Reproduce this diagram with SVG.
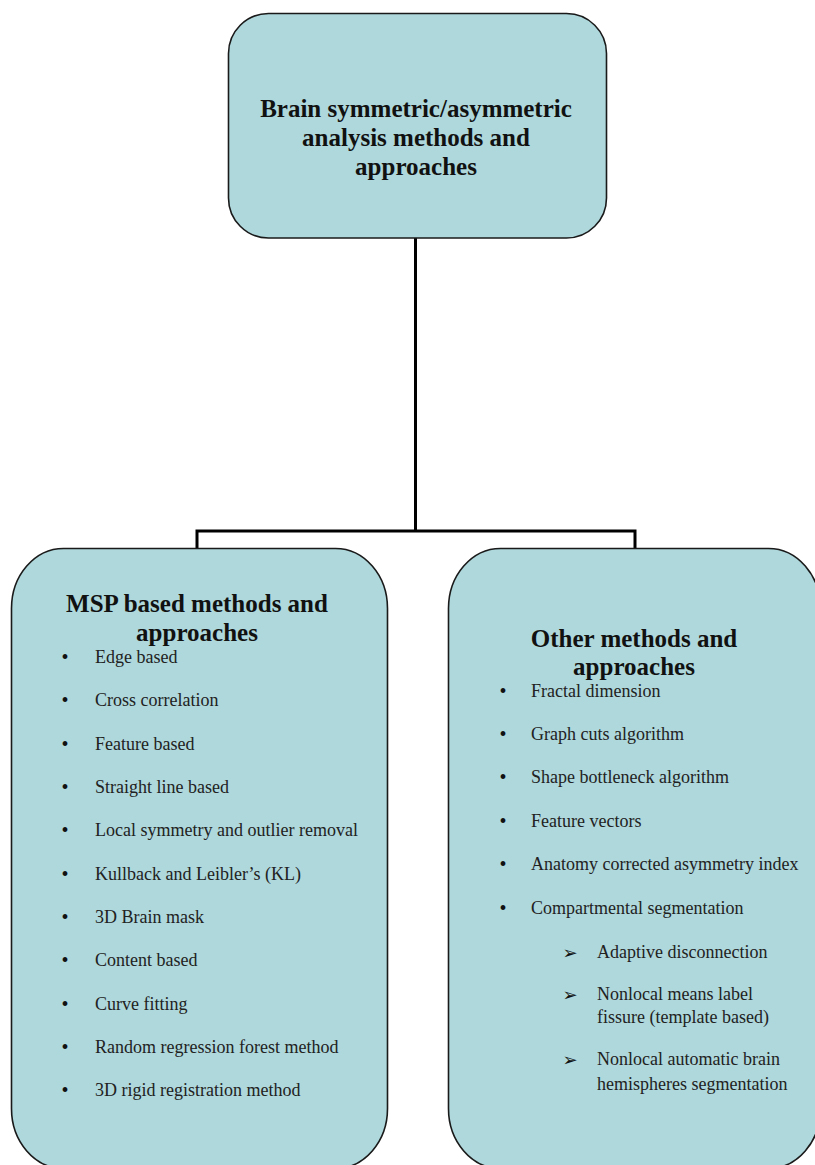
<svg xmlns="http://www.w3.org/2000/svg" width="815" height="1165" viewBox="0 0 815 1165">
<style>
.box{fill:#aed8dc;stroke:#1a1a1a;stroke-width:1.6}
.conn{fill:none;stroke:#000;stroke-width:3}
.h{font-family:"Liberation Serif","Times New Roman",serif;font-weight:bold;font-size:25px;fill:#111;text-anchor:middle}
.t{font-family:"Liberation Serif","Times New Roman",serif;font-size:18px;fill:#222}
.b{font-family:"Liberation Serif","Times New Roman",serif;font-size:20px;fill:#111;text-anchor:middle}
.a{font-family:"DejaVu Sans",sans-serif;font-size:18px;fill:#111;text-anchor:middle}
</style>
<rect width="815" height="1165" fill="#fff"/>
<g id="connectors">
<path class="conn" d="M415.5 238 V531 M197 548 V531 H635 V548"/>
</g>
<g id="root">
<rect class="box" x="228.5" y="13.5" width="378" height="224.5" rx="40" ry="40"/>
<text class="h" x="416" y="117">Brain symmetric/asymmetric</text>
<text class="h" x="416" y="146">analysis methods and</text>
<text class="h" x="416" y="175">approaches</text>
</g>
<g id="msp">
<rect class="box" x="11.5" y="548.5" width="376" height="620" rx="52" ry="60"/>
<text class="h" x="197" y="612">MSP based methods and</text>
<text class="h" x="197" y="641">approaches</text>
<g class="b">
<text x="65" y="664">•</text><text x="65" y="707">•</text><text x="65" y="751">•</text><text x="65" y="794">•</text><text x="65" y="837">•</text><text x="65" y="881">•</text><text x="65" y="924">•</text><text x="65" y="967">•</text><text x="65" y="1011">•</text><text x="65" y="1054">•</text><text x="65" y="1097">•</text>
</g>
<text class="t" x="95" y="663">Edge based</text>
<text class="t" x="95" y="706">Cross correlation</text>
<text class="t" x="95" y="750">Feature based</text>
<text class="t" x="95" y="793">Straight line based</text>
<text class="t" x="95" y="836">Local symmetry and outlier removal</text>
<text class="t" x="95" y="880">Kullback and Leibler’s (KL)</text>
<text class="t" x="95" y="923">3D Brain mask</text>
<text class="t" x="95" y="966">Content based</text>
<text class="t" x="95" y="1010">Curve fitting</text>
<text class="t" x="95" y="1053">Random regression forest method</text>
<text class="t" x="95" y="1096">3D rigid registration method</text>
</g>
<g id="other">
<rect class="box" x="448.5" y="548.5" width="372" height="620" rx="52" ry="60"/>
<text class="h" x="634" y="647">Other methods and</text>
<text class="h" x="634" y="675">approaches</text>
<g class="b">
<text x="503" y="698">•</text><text x="503" y="741">•</text><text x="503" y="784">•</text><text x="503" y="828">•</text><text x="503" y="871">•</text><text x="503" y="915">•</text>
</g>
<text class="t" x="531" y="697">Fractal dimension</text>
<text class="t" x="531" y="740">Graph cuts algorithm</text>
<text class="t" x="531" y="783">Shape bottleneck algorithm</text>
<text class="t" x="531" y="827">Feature vectors</text>
<text class="t" x="531" y="870">Anatomy corrected asymmetry index</text>
<text class="t" x="531" y="914">Compartmental segmentation</text>
<g class="a">
<text x="570" y="959">➢</text><text x="570" y="1001">➢</text><text x="570" y="1066">➢</text>
</g>
<text class="t" x="597" y="958">Adaptive disconnection</text>
<text class="t" x="597" y="1000">Nonlocal means label</text>
<text class="t" x="597" y="1023">fissure (template based)</text>
<text class="t" x="597" y="1065">Nonlocal automatic brain</text>
<text class="t" x="597" y="1090">hemispheres segmentation</text>
</g>
</svg>
